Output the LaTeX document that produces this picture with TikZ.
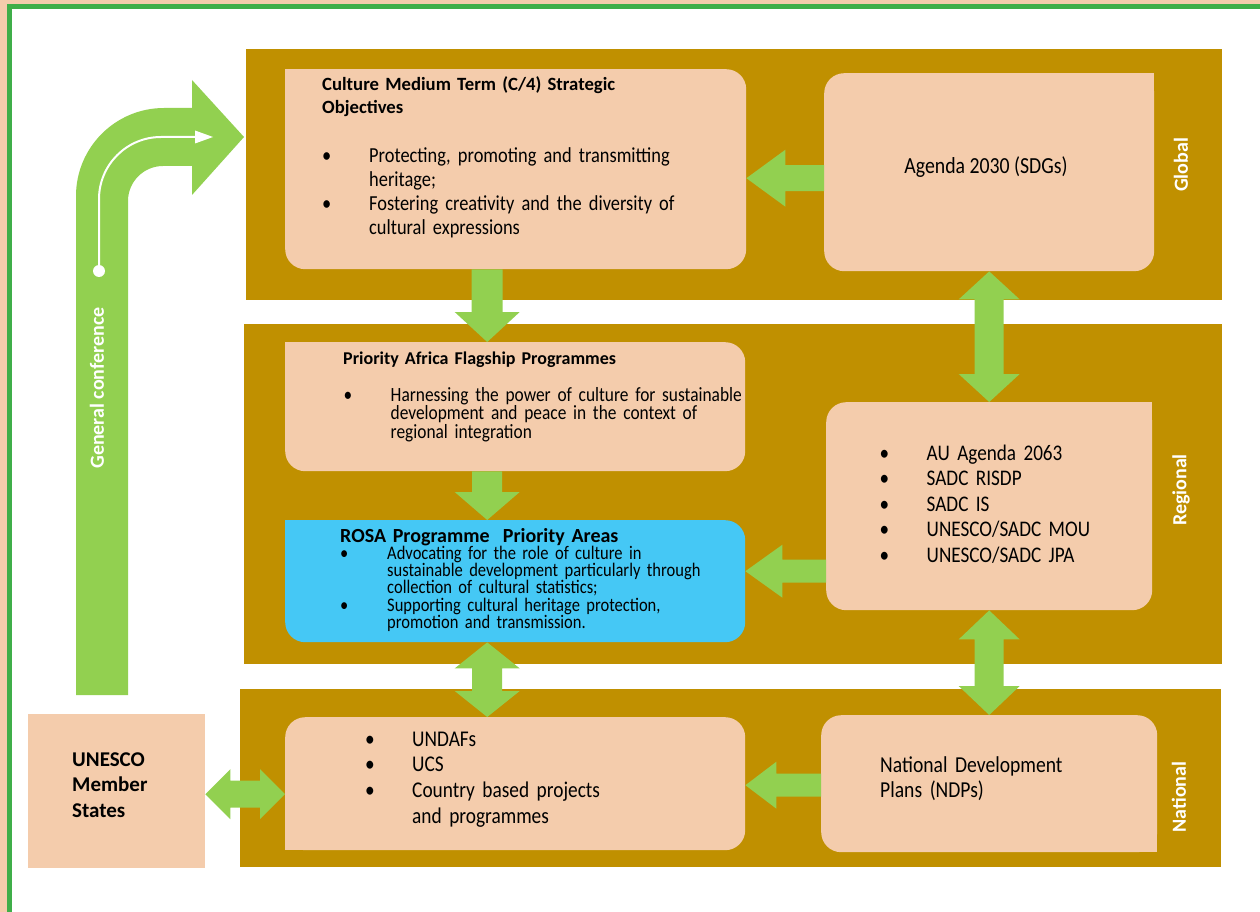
\documentclass[tikz,border=0pt]{standalone}
\usepackage{fontspec}
\setmainfont{Carlito}
\newfontfamily\condfont[FakeStretch=0.86]{Carlito}
\usetikzlibrary{calc}

\definecolor{gold}{HTML}{C09000}
\definecolor{peach}{HTML}{F4CCAC}
\definecolor{leaf}{HTML}{92D050}
\definecolor{sky}{HTML}{45C8F5}
\definecolor{frame}{HTML}{3FAE49}

\setlength{\lineskiplimit}{-30pt}
% one bullet item with hanging indent
\newcommand{\bul}[1]{\hangindent=47pt\hangafter=1\noindent\makebox[47pt][l]{\textbullet}#1\par}

% block arrows: #1 tail, #2 tip, #3 head length, #4 head half width, #5 shaft half width
\newcommand{\harrow}[5]{%
  \fill[leaf] let \p1=(#1), \p2=(#2), \n1={ifthenelse(\x2>\x1,1,-1)} in
    (\x1,{\y1+#5}) -- ({\x2-(\n1)*#3},{\y1+#5}) -- ({\x2-(\n1)*#3},{\y1+#4}) -- (\x2,\y1)
    -- ({\x2-(\n1)*#3},{\y1-#4}) -- ({\x2-(\n1)*#3},{\y1-#5}) -- (\x1,{\y1-#5}) -- cycle;}
\newcommand{\varrow}[5]{%
  \fill[leaf] let \p1=(#1), \p2=(#2), \n1={ifthenelse(\y2>\y1,1,-1)} in
    ({\x1+#5},\y1) -- ({\x1+#5},{\y2-(\n1)*#3}) -- ({\x1+#4},{\y2-(\n1)*#3}) -- (\x1,\y2)
    -- ({\x1-#4},{\y2-(\n1)*#3}) -- ({\x1-#5},{\y2-(\n1)*#3}) -- ({\x1-#5},\y1) -- cycle;}
% double headed: #1 and #2 are both tips
\newcommand{\hdarrow}[5]{%
  \fill[leaf] let \p1=(#1), \p2=(#2), \n1={ifthenelse(\x2>\x1,1,-1)} in
    (\x1,\y1) -- ({\x1+(\n1)*#3},{\y1+#4}) -- ({\x1+(\n1)*#3},{\y1+#5})
    -- ({\x2-(\n1)*#3},{\y1+#5}) -- ({\x2-(\n1)*#3},{\y1+#4}) -- (\x2,\y1)
    -- ({\x2-(\n1)*#3},{\y1-#4}) -- ({\x2-(\n1)*#3},{\y1-#5})
    -- ({\x1+(\n1)*#3},{\y1-#5}) -- ({\x1+(\n1)*#3},{\y1-#4}) -- cycle;}
\newcommand{\vdarrow}[5]{%
  \fill[leaf] let \p1=(#1), \p2=(#2), \n1={ifthenelse(\y2>\y1,1,-1)} in
    (\x1,\y1) -- ({\x1+#4},{\y1+(\n1)*#3}) -- ({\x1+#5},{\y1+(\n1)*#3})
    -- ({\x1+#5},{\y2-(\n1)*#3}) -- ({\x1+#4},{\y2-(\n1)*#3}) -- (\x1,\y2)
    -- ({\x1-#4},{\y2-(\n1)*#3}) -- ({\x1-#5},{\y2-(\n1)*#3})
    -- ({\x1-#5},{\y1+(\n1)*#3}) -- ({\x1-#4},{\y1+(\n1)*#3}) -- cycle;}

\tikzset{
  band/.style={fill=gold, inner sep=0pt, anchor=north west},
  box/.style={fill=peach, inner sep=0pt, anchor=north west, rounded corners=20pt},
  txt/.style={inner sep=0pt, anchor=base west, align=left, text width=440pt},
  level/.style={text=white, inner sep=0pt, rotate=90, font=\bfseries\fontsize{20}{20}\selectfont},
}

\begin{document}
\begin{tikzpicture}[x=1pt,y=-1pt]
\useasboundingbox (0,0) rectangle (1260,912);
\clip (0,0) rectangle (1260,912);

% page frame
\fill[peach] (0,0) rectangle (1260,912);
\filldraw[fill=white, draw=frame, line width=5.3pt] (9.3,6.2) rectangle (1290,940);

% level bands
\node[band, minimum width=976pt, minimum height=251pt] (global) at (246,49) {};
\node[band, minimum width=978pt, minimum height=340pt] (regional) at (244,324) {};
\node[band, minimum width=981pt, minimum height=178pt] (national) at (240,689) {};

\node[level] (glob) at (1181,165) {Global};
\node[level] (regl) at (1181,490) {Regional};
\node[level] (natl) at (1179,797) {National};

% boxes
\node[box, minimum width=461pt, minimum height=200pt] (c4) at (285,69) {};
\node[box, minimum width=330pt, minimum height=198pt] (agenda) at (824,73) {};
\node[box, minimum width=460pt, minimum height=129pt] (prio) at (285,342) {};
\node[box, fill=sky, minimum width=460pt, minimum height=122pt] (rosa) at (285,520) {};
\node[box, minimum width=326pt, minimum height=208pt] (au) at (826,402) {};
\node[box, minimum width=460pt, minimum height=133pt] (undaf) at (285,717) {};
\node[box, minimum width=336pt, minimum height=137pt] (ndp) at (821,715) {};
\node[box, sharp corners, minimum width=177pt, minimum height=154pt] (member) at (28,714) {};

% square corners
\fill[peach] (c4.north west) rectangle ++(20,20);
\fill[peach] (agenda.north east) rectangle ++(-20,20);
\fill[peach] (prio.north west) rectangle ++(20,20);
\fill[sky] (rosa.north west) rectangle ++(20,20);
\fill[peach] (au.north east) rectangle ++(-20,20);
\fill[peach] (undaf.south west) rectangle ++(20,-20);
\fill[peach] (ndp.south east) rectangle ++(-20,-20);

% texts
\node[txt, font=\bfseries\fontsize{18.7}{22.5}\selectfont] (c4title) at (322,91)
  {Culture Medium Term (C/4) Strategic\newline Objectives};
\node[txt, font=\condfont\fontsize{21.4}{24}\selectfont] (c4list) at (322,163)
  {\bul{Protecting, promoting and transmitting\newline heritage;}%
   \bul{Fostering creativity and the diversity of\newline cultural expressions}};
\node[inner sep=0pt, anchor=base, font=\condfont\fontsize{23}{23}\selectfont] (agendatxt) at (986,174)
  {Agenda 2030 (SDGs)};

\node[txt, font=\bfseries\fontsize{18}{20}\selectfont] (priotitle) at (343,364)
  {Priority Africa Flagship Programmes};
\node[txt, font=\condfont\fontsize{20.2}{18.5}\selectfont] (priolist) at (343.5,401)
  {\bul{Harnessing the power of culture for sustainable\newline development and peace in the context of\newline regional integration}};

\node[txt, font=\bfseries\fontsize{20}{22}\selectfont] (rosatitle) at (340,542)
  {ROSA Programme~ Priority Areas};
\node[txt, font=\condfont\fontsize{19.2}{17.2}\selectfont] (rosalist) at (340,559.5)
  {\bul{Advocating for the role of culture in\newline sustainable development particularly through\newline collection of cultural statistics;}%
   \bul{Supporting cultural heritage protection,\newline promotion and transmission.}};

\node[txt, font=\condfont\fontsize{22.3}{25.5}\selectfont] (aulist) at (879.5,460)
  {\bul{AU Agenda 2063}\bul{SADC RISDP}\bul{SADC IS}\bul{UNESCO/SADC MOU}\bul{UNESCO/SADC JPA}};

\node[txt, font=\condfont\fontsize{22.5}{25.7}\selectfont] (undaflist) at (365,746)
  {\bul{UNDAFs}\bul{UCS}\bul{Country based projects\newline and programmes}};
\node[txt, font=\condfont\fontsize{22.8}{25}\selectfont] (ndptxt) at (880,772)
  {National Development\newline Plans (NDPs)};
\node[txt, font=\bfseries\fontsize{21}{25.5}\selectfont] (membertxt) at (72,766)
  {UNESCO\newline Member\newline States};

% connectors
\harrow{[yshift=-6pt]agenda.west}{c4.east}{39pt}{28.5pt}{13pt}
\varrow{[xshift=-28.5pt]c4.south}{prio.north}{30pt}{32.5pt}{15.5pt}
\vdarrow{agenda.south}{au.north}{28pt}{30.5pt}{14.5pt}
\varrow{[xshift=-28pt]prio.south}{rosa.north}{28pt}{32.5pt}{15pt}
\harrow{[yshift=-65pt]au.west}{rosa.east}{37pt}{26.5pt}{11.5pt}
\vdarrow{[xshift=-28pt]rosa.south}{undaf.north}{26pt}{32.5pt}{15pt}
\vdarrow{au.south}{ndp.north}{29pt}{30.5pt}{14.5pt}
\harrow{[yshift=-1.5pt]ndp.west}{undaf.east}{31pt}{23.5pt}{11.5pt}
\hdarrow{[yshift=-3pt]member.east}{undaf.west}{25pt}{25pt}{13.5pt}

% general conference arrow
\fill[leaf] (76,695) -- (76,196) .. controls (76,147.4) and (115.4,108) .. (164,108)
  -- (192,108) -- (192,80) -- (244,137) -- (192,195) -- (192,166) -- (163,166)
  .. controls (143.7,166) and (128,181.7) .. (128,201) -- (128,695) -- cycle;
\draw[white, line width=2pt] (99,271) -- (99,199) .. controls (99,164.8) and (126.8,137) .. (161,137) -- (197,137);
\fill[white] (195,130.5) -- (213,137) -- (195,143.5) -- cycle;
\fill[white] (99,271) circle (6pt);
\node[level] (gconf) at (97,388) {General conference};
\end{tikzpicture}
\end{document}
